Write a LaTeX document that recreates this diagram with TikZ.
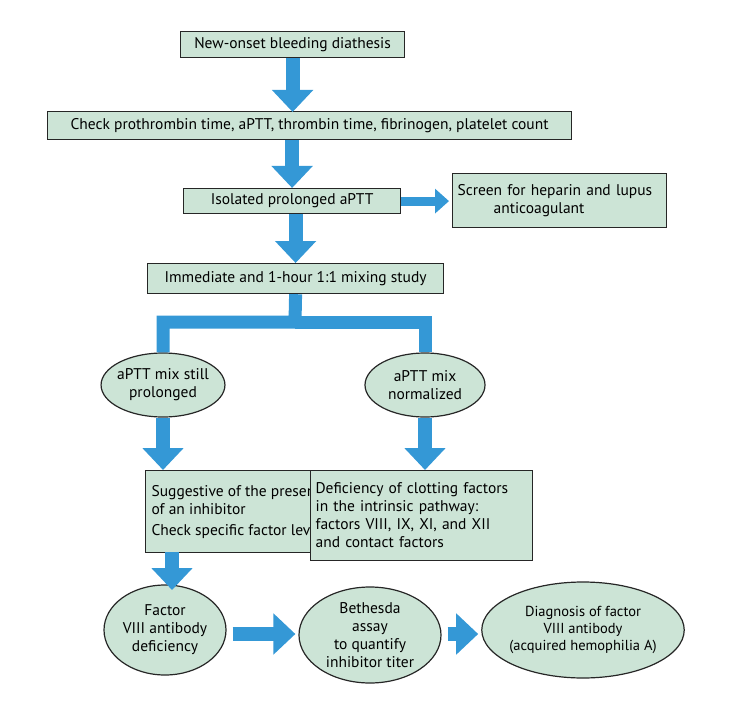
\documentclass[tikz,border=0pt]{standalone}
\usepackage{fontspec}
\setmainfont{PT Sans}
\usetikzlibrary{shapes.geometric,arrows.meta}
\definecolor{boxg}{RGB}{204,228,214}
\definecolor{arrb}{RGB}{52,152,214}
\begin{document}
\begin{tikzpicture}[x=1pt,y=-1pt,
  every node/.style={font=\fontsize{15.5}{18}\selectfont},
  bx/.style={draw=black!85,line width=1.2pt,fill=boxg,inner sep=0pt,anchor=north west},
  el/.style={ellipse,draw=black!85,line width=1.2pt,fill=boxg,inner sep=-2pt,align=center},
  fat/.style={draw=arrb,line width=14pt,-{Triangle[width=40pt,length=22pt]}},
  fatl/.style={draw=arrb,line width=13pt,line join=miter}]
\useasboundingbox (0,0) rectangle (738,711);
\node[bx,minimum width=224pt,minimum height=26pt] (n1) at (180,31) {New-onset bleeding diathesis};
\node[bx,minimum width=524pt,minimum height=28pt] (n2) at (47,111) {Check prothrombin time, aPTT, thrombin time, fibrinogen, platelet count};
\node[bx,minimum width=217pt,minimum height=25pt] (n3) at (183,188) {Isolated prolonged aPTT};
\node[bx,minimum width=214pt,minimum height=54pt,text width=204pt,align=left] (n4) at (452,173) {Screen for heparin and lupus\\ \hspace*{36pt}anticoagulant};
\node[bx,minimum width=296pt,minimum height=30pt] (n5) at (147,263) {Immediate and 1-hour 1:1 mixing study};
\node[el,minimum width=114pt,minimum height=64pt] (e1) at (163,385) {aPTT mix still\\prolonged};
\node[el,minimum width=120pt,minimum height=64pt] (e2) at (425,385) {aPTT mix\\normalized};
\node[bx,minimum width=144pt,minimum height=82pt,align=left,inner xsep=6pt] (b1) at (145,470) {Suggestive of the presence\\of an inhibitor\\[3pt]Check specific factor levels};
\node[bx,minimum width=222pt,minimum height=90pt,text width=212pt,align=left] (b2) at (310,470) {Deficiency of clotting factors\\in the intrinsic pathway:\\factors VIII, IX, XI, and XII\\and contact factors};
\node[el,minimum width=122pt,minimum height=90pt] (e3) at (165,630) {Factor\\VIII antibody\\deficiency};
\node[el,minimum width=142pt,minimum height=96pt] (e4) at (370,635) {Bethesda\\assay\\to quantify\\inhibitor titer};
\node[el,minimum width=146pt,minimum height=96pt,font=\fontsize{14.5}{17}\selectfont] (e5) at (583,630) {Diagnosis of factor\\VIII antibody\\(acquired hemophilia A)};
\draw[fat] (n1.south) -- ([yshift=-1pt]n2.north -| n1.south);
\draw[fat] (n2.south -| n3.north) -- (n3.north);
\draw[draw=arrb,line width=9pt,-{Triangle[width=24pt,length=14pt]},shorten >=3pt] (n3.east) -- (n4.west |- n3.east);
\draw[fat] (n3.south -| n5.north) -- (n5.north);
\draw[fatl] (n5.south) -- (295,322) -- (163,322) -- (e1.north);
\draw[fatl] (295,322) -- (425,322) -- (e2.north);
\draw[fat] (e1.south) -- (e1.south |- b1.north);
\draw[fat] (e2.south) -- (e2.south |- b2.north);
\draw[fat] (172,552) -- (172,590);
\draw[fat,shorten <=6pt,shorten >=3pt] (e3.east |- 0,634) -- (e4.west |- 0,634);
\draw[fat,shorten <=6pt,shorten >=3pt] (e4.east |- 0,634) -- (e5.west |- 0,634);
\end{tikzpicture}
\end{document}
